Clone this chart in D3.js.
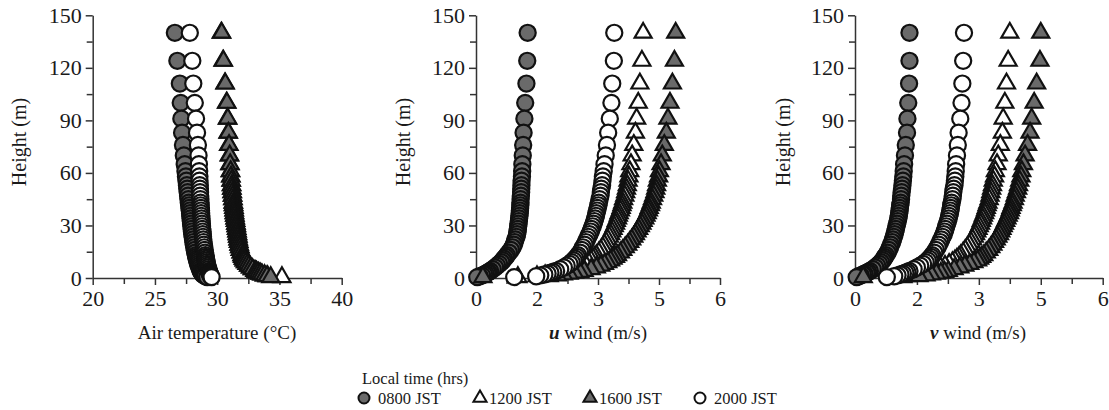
<!DOCTYPE html>
<html>
<head>
<meta charset="utf-8">
<script src="https://cdn.jsdelivr.net/npm/d3@7"></script>
<style>
    body { margin: 0; background: #fff; }
    svg text { font-family: "Liberation Serif", "DejaVu Serif", serif; fill: #1a1a1a; }
    .axis path, .axis line { stroke: #333; stroke-width: 1.5; }
</style>
</head>
<body>
<svg id="chart"></svg>
<script>
// Model levels (m), from the top of the profile down to the surface
const heights = [140, 124, 111, 100, 91, 83, 76, 70, 65, 61, 58, 55.5, 53, 51, 49, 47, 45, 43, 41.5, 40,
    38.5, 37, 35.5, 34, 32.5, 31, 29.5, 28, 26.5, 25, 23.5, 22, 20.5, 19, 17.5, 16, 14.5, 13, 12, 11,
    10, 9, 8, 7, 6, 5, 4, 3.5, 3, 2.5, 2, 1.5, 1, 0.5];

const seriesNames = ['0800 JST', '1200 JST', '1600 JST', '2000 JST'];

// Air temperature (°C)
const temp0800 = [26.6, 26.8, 27.0, 27.07, 27.12, 27.18, 27.25, 27.32, 27.39, 27.45, 27.49, 27.53, 27.57, 27.6, 27.63,
    27.66, 27.69, 27.72, 27.75, 27.77, 27.8, 27.82, 27.84, 27.86, 27.88, 27.9, 27.93, 27.95, 27.97, 28.0,
    28.03, 28.06, 28.09, 28.12, 28.16, 28.2, 28.24, 28.29, 28.32, 28.36, 28.39, 28.43, 28.47, 28.52, 28.57,
    28.62, 28.68, 28.72, 28.75, 28.8, 28.85, 28.95, 29.05, 29.2];
const temp1200 = [30.33, 30.47, 30.62, 30.75, 30.82, 30.87, 30.92, 30.97, 31.01, 31.05, 31.08, 31.11, 31.14, 31.16, 31.19,
    31.22, 31.25, 31.28, 31.3, 31.33, 31.35, 31.37, 31.4, 31.43, 31.46, 31.49, 31.52, 31.55, 31.58, 31.61,
    31.64, 31.67, 31.71, 31.75, 31.8, 31.85, 31.92, 31.99, 32.04, 32.1, 32.17, 32.27, 32.39, 32.52, 32.67,
    32.82, 33.02, 33.14, 33.28, 33.43, 33.58, 33.8, 34.05, 35.2];
const temp1600 = [30.36, 30.5, 30.65, 30.78, 30.85, 30.9, 30.95, 31.0, 31.04, 31.08, 31.11, 31.14, 31.17, 31.19, 31.22,
    31.25, 31.28, 31.31, 31.33, 31.36, 31.38, 31.4, 31.43, 31.46, 31.49, 31.52, 31.55, 31.58, 31.61, 31.64,
    31.67, 31.7, 31.74, 31.78, 31.83, 31.88, 31.95, 32.02, 32.07, 32.13, 32.2, 32.3, 32.42, 32.55, 32.7,
    32.85, 33.05, 33.17, 33.3, 33.45, 33.6, 33.8, 34.0, 34.3];
const temp2000 = [27.8, 28.0, 28.08, 28.2, 28.3, 28.38, 28.45, 28.5, 28.53, 28.55, 28.57, 28.58, 28.6, 28.61, 28.62,
    28.63, 28.65, 28.66, 28.67, 28.69, 28.7, 28.71, 28.72, 28.74, 28.75, 28.77, 28.78, 28.8, 28.82, 28.84,
    28.86, 28.88, 28.9, 28.93, 28.96, 28.99, 29.02, 29.05, 29.07, 29.1, 29.12, 29.15, 29.18, 29.21, 29.25,
    29.29, 29.33, 29.36, 29.38, 29.41, 29.43, 29.46, 29.5, 29.55];

// u wind (m/s)
const u0800 = [1.27, 1.26, 1.24, 1.21, 1.19, 1.17, 1.16, 1.15, 1.14, 1.135, 1.13, 1.12, 1.117, 1.113, 1.11,
    1.103, 1.097, 1.093, 1.09, 1.085, 1.08, 1.075, 1.068, 1.06, 1.053, 1.045, 1.037, 1.03, 1.022, 1.01,
    0.995, 0.97, 0.95, 0.93, 0.9, 0.86, 0.81, 0.76, 0.73, 0.69, 0.66, 0.62, 0.57, 0.52, 0.47,
    0.41, 0.35, 0.31, 0.28, 0.24, 0.2, 0.15, 0.09, 0.03];
const u1200 = [4.11, 4.08, 4.03, 3.99, 3.95, 3.92, 3.88, 3.84, 3.81, 3.78, 3.76, 3.74, 3.72, 3.7, 3.68,
    3.66, 3.63, 3.61, 3.59, 3.57, 3.55, 3.52, 3.5, 3.48, 3.45, 3.43, 3.4, 3.37, 3.34, 3.31,
    3.28, 3.24, 3.2, 3.16, 3.12, 3.07, 3.02, 2.96, 2.92, 2.88, 2.83, 2.77, 2.69, 2.6, 2.5,
    2.38, 2.24, 2.15, 2.05, 1.95, 1.85, 1.7, 1.5, 1.03];
const u1600 = [4.91, 4.88, 4.83, 4.77, 4.72, 4.68, 4.63, 4.58, 4.55, 4.51, 4.49, 4.46, 4.44, 4.42, 4.4,
    4.37, 4.34, 4.31, 4.29, 4.26, 4.24, 4.21, 4.18, 4.15, 4.11, 4.08, 4.04, 4.0, 3.96, 3.92,
    3.88, 3.83, 3.78, 3.73, 3.67, 3.61, 3.55, 3.48, 3.43, 3.37, 3.31, 3.24, 3.16, 3.07, 2.96,
    2.83, 2.66, 2.55, 2.42, 2.29, 2.15, 2.0, 1.8, 0.17];
const u2000 = [3.40, 3.39, 3.35, 3.33, 3.29, 3.25, 3.22, 3.19, 3.16, 3.14, 3.12, 3.11, 3.1, 3.08, 3.07,
    3.06, 3.04, 3.02, 3.01, 2.99, 2.98, 2.96, 2.95, 2.93, 2.91, 2.89, 2.87, 2.84, 2.82, 2.79,
    2.76, 2.73, 2.7, 2.67, 2.63, 2.6, 2.56, 2.51, 2.48, 2.44, 2.4, 2.35, 2.3, 2.23, 2.16,
    2.07, 1.97, 1.9, 1.83, 1.76, 1.68, 1.58, 1.48, 0.94];

// v wind (m/s)
const v0800 = [1.32, 1.32, 1.31, 1.29, 1.27, 1.26, 1.23, 1.21, 1.19, 1.18, 1.17, 1.16, 1.15, 1.14, 1.13,
    1.12, 1.115, 1.105, 1.095, 1.085, 1.08, 1.07, 1.06, 1.05, 1.035, 1.02, 1.005, 0.99, 0.975, 0.96,
    0.94, 0.92, 0.9, 0.87, 0.85, 0.82, 0.79, 0.75, 0.72, 0.7, 0.67, 0.63, 0.59, 0.54, 0.49,
    0.43, 0.36, 0.32, 0.28, 0.23, 0.19, 0.14, 0.09, 0.04];
const v1200 = [3.75, 3.71, 3.67, 3.63, 3.59, 3.57, 3.52, 3.47, 3.44, 3.4, 3.38, 3.35, 3.33, 3.31, 3.29,
    3.27, 3.25, 3.22, 3.2, 3.18, 3.16, 3.14, 3.11, 3.09, 3.06, 3.04, 3.01, 2.98, 2.95, 2.92,
    2.89, 2.85, 2.81, 2.77, 2.72, 2.67, 2.62, 2.56, 2.52, 2.47, 2.42, 2.36, 2.28, 2.18, 2.07,
    1.95, 1.82, 1.74, 1.65, 1.55, 1.45, 1.35, 1.25, 1.16];
const v1600 = [4.5, 4.48, 4.4, 4.34, 4.28, 4.24, 4.18, 4.12, 4.08, 4.04, 4.02, 3.99, 3.96, 3.94, 3.91,
    3.88, 3.86, 3.83, 3.81, 3.78, 3.76, 3.74, 3.71, 3.68, 3.65, 3.62, 3.59, 3.56, 3.53, 3.5,
    3.46, 3.42, 3.38, 3.34, 3.29, 3.24, 3.18, 3.12, 3.07, 3.02, 2.97, 2.88, 2.78, 2.66, 2.54,
    2.4, 2.26, 2.17, 2.08, 1.97, 1.85, 1.72, 1.55, 0.2];
const v2000 = [2.64, 2.62, 2.6, 2.58, 2.55, 2.51, 2.49, 2.47, 2.45, 2.44, 2.43, 2.42, 2.41, 2.39, 2.38,
    2.37, 2.36, 2.34, 2.33, 2.32, 2.31, 2.3, 2.28, 2.27, 2.25, 2.23, 2.21, 2.19, 2.17, 2.15,
    2.12, 2.09, 2.06, 2.03, 2.0, 1.96, 1.92, 1.87, 1.84, 1.8, 1.76, 1.71, 1.65, 1.58, 1.5,
    1.42, 1.32, 1.27, 1.22, 1.16, 1.1, 1.03, 0.95, 0.77];

// Axis ticks
const heightTicks = [0, 30, 60, 90, 120, 150];
const tempTicks = [20, 25, 30, 35, 40];
const windTicks = [0, 1.5, 3, 4.5, 6];

initProfiles();

function initProfiles() {
    const font = '"Liberation Serif", "DejaVu Serif", serif';
    const svg = d3.select('#chart').attr('width', 1109).attr('height', 410);
    const grey = '#6a6a6a';
    const markerStyles = [
        { shape: d3.symbolCircle, fill: grey },
        { shape: d3.symbolTriangle, fill: '#fff' },
        { shape: d3.symbolTriangle, fill: grey },
        { shape: d3.symbolCircle, fill: '#fff' },
    ];

    const y = d3.scaleLinear().domain([0, 150]).range([278, 15.3]);

    const panels = [
        { left: 92.7, right: 341.7, domain: [20, 40], ticks: tempTicks, titleX: 217, yTitleX: 19,
          title: [{ t: 'Air temperature (°C)' }], series: [temp0800, temp1200, temp1600, temp2000] },
        { left: 476, right: 720, domain: [0, 6], ticks: windTicks, titleX: 598, yTitleX: 403,
          title: [{ t: 'u', em: true }, { t: ' wind (m/s)' }], series: [u0800, u1200, u1600, u2000] },
        { left: 855, right: 1102.7, domain: [0, 6], ticks: windTicks, titleX: 978, yTitleX: 783,
          title: [{ t: 'v', em: true }, { t: ' wind (m/s)' }], series: [v0800, v1200, v1600, v2000] },
    ];

    panels.forEach(drawPanel);
    drawLegend();

    function drawPanel(p) {
        const x = d3.scaleLinear().domain(p.domain).range([p.left, p.right]);
        const g = svg.append('g');

        // Minor ticks halfway between the major ones
        const xMinor = d3.pairs(p.ticks).map((d) => (d[0] + d[1]) / 2);
        const yMinor = d3.pairs(heightTicks).map((d) => (d[0] + d[1]) / 2);

        g.append('g')
            .attr('class', 'axis')
            .attr('transform', 'translate(0,' + y(0) + ')')
            .call(d3.axisBottom(x).tickValues(xMinor).tickSize(6).tickSizeOuter(0).tickFormat(''))
            .select('.domain').remove();
        g.append('g')
            .attr('class', 'axis')
            .attr('transform', 'translate(' + p.left + ',0)')
            .call(d3.axisLeft(y).tickValues(yMinor).tickSize(6).tickSizeOuter(0).tickFormat(''))
            .select('.domain').remove();

        const xAxis = g.append('g')
            .attr('class', 'axis')
            .attr('transform', 'translate(0,' + y(0) + ')')
            .call(d3.axisBottom(x).tickValues(p.ticks).tickSize(7).tickSizeOuter(0)
                .tickPadding(5).tickFormat(d3.format('.0f')));
        const yAxis = g.append('g')
            .attr('class', 'axis')
            .attr('transform', 'translate(' + p.left + ',0)')
            .call(d3.axisLeft(y).tickValues(heightTicks).tickSize(7).tickSizeOuter(0).tickPadding(4));
        [xAxis, yAxis].forEach((a) => {
            a.attr('font-family', font).attr('font-size', 22);
            a.selectAll('text').attr('fill', '#1a1a1a');
        });

        // Markers: series in legend order, each profile drawn from the top down
        p.series.forEach((vals, si) => {
            const st = markerStyles[si];
            const size = st.shape === d3.symbolCircle ? 205 : 125;
            g.append('g')
                .selectAll('path')
                .data(heights.map((h, i) => ({ h: h, v: vals[i] })))
                .enter()
                .append('path')
                .attr('d', d3.symbol().type(st.shape).size(size))
                .attr('transform', (d) => 'translate(' + x(d.v) + ',' + y(d.h) + ')')
                .attr('fill', st.fill)
                .attr('stroke', '#111')
                .attr('stroke-width', 2.2);
        });

        // Axis titles
        const xt = g.append('text')
            .attr('x', p.titleX)
            .attr('y', 339)
            .attr('text-anchor', 'middle')
            .style('font-size', '19px');
        p.title.forEach((part) => {
            const ts = xt.append('tspan').text(part.t);
            if (part.em) ts.style('font-style', 'italic').style('font-weight', 'bold');
        });
        g.append('text')
            .attr('transform', 'translate(' + (p.yTitleX + 7) + ',142) rotate(-90)')
            .attr('text-anchor', 'middle')
            .style('font-size', '20px')
            .text('Height (m)');
    }

    function drawLegend() {
        const lg = svg.append('g');
        lg.append('text')
            .attr('x', 362)
            .attr('y', 384)
            .style('font-size', '16.5px')
            .text('Local time (hrs)');
        const itemX = [364, 480, 590, 700];
        seriesNames.forEach((name, i) => {
            const st = markerStyles[i];
            lg.append('path')
                .attr('d', d3.symbol().type(st.shape).size(st.shape === d3.symbolCircle ? 95 : 75))
                .attr('transform', 'translate(' + itemX[i] + ',398)')
                .attr('fill', st.fill)
                .attr('stroke', '#111')
                .attr('stroke-width', 2);
            lg.append('text')
                .attr('x', itemX[i] + (st.shape === d3.symbolCircle ? 14 : 9))
                .attr('y', 404)
                .style('font-size', '16.5px')
                .text(name);
        });
    }
}
</script>
</body>
</html>
